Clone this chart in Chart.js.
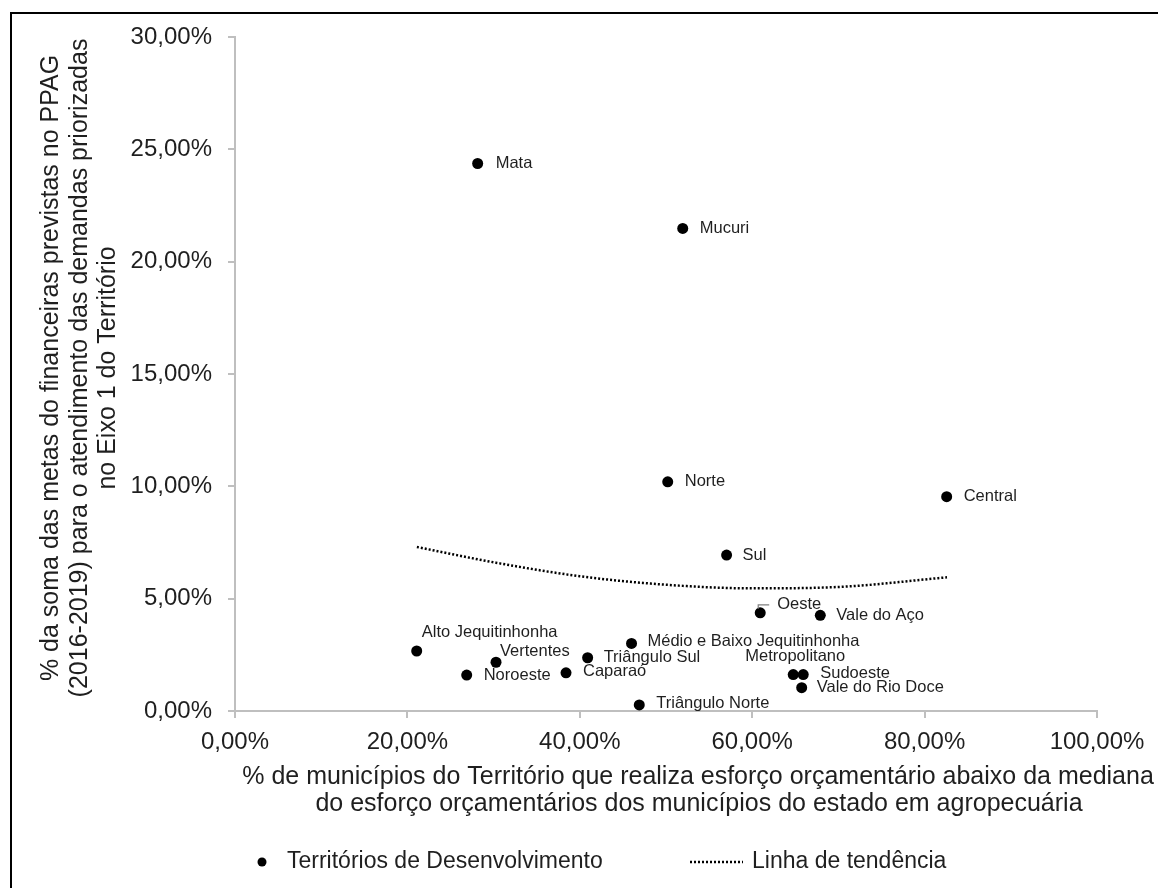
<!DOCTYPE html>
<html><head><meta charset="utf-8">
<script src="https://cdn.jsdelivr.net/npm/chart.js@4"></script>
<style>html,body{margin:0;padding:0;background:#fff;overflow:hidden}canvas{display:block}</style>
</head><body>
<canvas id="c" width="1158" height="888"></canvas>
<script>
// ---- data ----
const territorios = ["Mata","Mucuri","Norte","Central","Sul","Oeste","Vale do Aço","Médio e Baixo Jequitinhonha","Metropolitano","Sudoeste","Vale do Rio Doce","Alto Jequitinhonha","Vertentes","Noroeste","Caparaó","Triângulo Sul","Triângulo Norte"];
const xValues = [28.15, 51.94, 50.2, 82.56, 57.03, 60.93, 67.9, 46.0, 64.76, 65.92, 65.74, 21.08, 30.28, 26.88, 38.4, 40.91, 46.9];
const yValues = [24.37, 21.48, 10.20, 9.54, 6.94, 4.37, 4.26, 3.01, 1.62, 1.62, 1.04, 2.67, 2.17, 1.60, 1.70, 2.37, 0.27];
const trendX = [21.1, 30, 40, 50, 60, 70, 82.6];
const trendY = [7.30, 6.62, 6.00, 5.62, 5.46, 5.52, 5.95];
const xTicks = [0, 20, 40, 60, 80, 100];
const yTicks = [0, 5, 10, 15, 20, 25, 30];
const xTitle = ["% de municípios do Território que realiza esforço orçamentário abaixo da mediana", "do esforço orçamentários dos municípios do estado em agropecuária"];
const yTitle = ["% da soma das metas do financeiras previstas no PPAG", "(2016-2019) para o atendimento das demandas priorizadas", "no Eixo 1 do Território"];
const seriesNames = ["Territórios de Desenvolvimento", "Linha de tendência"];

// ---- label placement (pixel offsets from each point) ----
const labelPlacement = {
  "Mata":[18,0], "Mucuri":[17,0], "Norte":[17,0], "Central":[17,0], "Sul":[16,0],
  "Oeste":[17,-8], "Vale do Aço":[16,0], "Médio e Baixo Jequitinhonha":[16,-2],
  "Metropolitano":[-48,-18], "Sudoeste":[17,-1], "Vale do Rio Doce":[15,0],
  "Alto Jequitinhonha":[5,-19], "Vertentes":[4,-11], "Noroeste":[17,0],
  "Caparaó":[17,-1], "Triângulo Sul":[16,0], "Triângulo Norte":[17,-1]
};

const FONT = '"Liberation Sans", Arial, sans-serif';
const TXT = '#1f1f1f';
const AXIS = '#bfbfbf';
const fmt = v => v.toFixed(2).replace('.', ',') + '%';

const points = xValues.map((x, i) => ({x, y: yValues[i]}));
const trend = trendX.map((x, i) => ({x, y: trendY[i]}));

const borderPlugin = {
  id: 'frame',
  beforeDraw(chart) {
    const c = chart.ctx;
    c.save();
    c.fillStyle = '#fff';
    c.fillRect(0, 0, chart.width, chart.height);
    c.strokeStyle = '#000';
    c.lineWidth = 2;
    c.strokeRect(11, 13, 3000, 3000);
    c.restore();
  }
};

const labelPlugin = {
  id: 'pointLabels',
  afterDatasetsDraw(chart) {
    const c = chart.ctx;
    const meta = chart.getDatasetMeta(0);
    c.save();
    c.font = '16.5px ' + FONT;
    c.fillStyle = TXT;
    c.textBaseline = 'middle';
    c.textAlign = 'left';
    meta.data.forEach((pt, i) => {
      const name = territorios[i];
      const off = labelPlacement[name] || [14, 0];
      c.fillText(name, pt.x + off[0], pt.y + off[1]);
      if (name === 'Oeste') {
        c.strokeStyle = '#7f7f7f';
        c.lineWidth = 1.2;
        c.beginPath();
        c.moveTo(pt.x - 2, pt.y - 4);
        c.lineTo(pt.x - 2, pt.y - 8);
        c.lineTo(pt.x + 9, pt.y - 8);
        c.stroke();
      }
    });
    c.restore();
  }
};

const decorPlugin = {
  id: 'decor',
  afterDraw(chart) {
    const c = chart.ctx;
    c.save();
    c.fillStyle = TXT;
    // x title
    c.font = '25px ' + FONT;
    c.textAlign = 'center';
    c.textBaseline = 'middle';
    c.fillText(xTitle[0], 698, 777);
    c.fillText(xTitle[1], 699, 804);
    // y title
    c.save();
    c.translate(0, 368);
    c.rotate(-Math.PI / 2);
    c.fillText(yTitle[0], 0, 51);
    c.fillText(yTitle[1], 0, 80);
    c.fillText(yTitle[2], 0, 108);
    c.restore();
    // legend
    const ly = 862;
    c.beginPath();
    c.arc(262, ly, 4.5, 0, Math.PI * 2);
    c.fillStyle = '#000';
    c.fill();
    c.fillStyle = TXT;
    c.font = '23px ' + FONT;
    c.textAlign = 'left';
    c.fillText(seriesNames[0], 287, ly);
    c.strokeStyle = '#000';
    c.lineWidth = 2.5;
    c.setLineDash([2, 2]);
    c.beginPath();
    c.moveTo(690, ly);
    c.lineTo(743, ly);
    c.stroke();
    c.setLineDash([]);
    c.fillText(seriesNames[1], 752, ly);
    c.restore();
  }
};

new Chart(document.getElementById('c'), {
  type: 'scatter',
  data: {
    datasets: [
      {
        label: seriesNames[0],
        data: points,
        pointRadius: 5.5,
        pointHoverRadius: 5.5,
        backgroundColor: '#000',
        borderColor: '#000',
        borderWidth: 0,
        order: 1
      },
      {
        label: seriesNames[1],
        type: 'line',
        data: trend,
        showLine: true,
        fill: false,
        borderColor: '#000',
        borderWidth: 2.5,
        borderDash: [2, 2],
        pointRadius: 0,
        tension: 0.4,
        cubicInterpolationMode: 'monotone',
        order: 2
      }
    ]
  },
  options: {
    responsive: false,
    animation: false,
    devicePixelRatio: 1,
    layout: { padding: { top: 37, right: 61, left: 0, bottom: 0 } },
    plugins: { legend: { display: false }, tooltip: { enabled: false } },
    scales: {
      x: {
        type: 'linear', min: 0, max: 100,
        afterBuildTicks: s => { s.ticks = xTicks.map(v => ({value: v})); },
        afterFit: s => { s.height = 888 - 711; },
        ticks: { callback: v => fmt(v), font: { family: FONT, size: 24 }, color: TXT, padding: 10, maxRotation: 0, autoSkip: false },
        grid: { drawOnChartArea: false, drawTicks: true, tickLength: 7, color: AXIS, lineWidth: 2 },
        border: { display: true, color: AXIS, width: 2 }
      },
      y: {
        type: 'linear', min: 0, max: 30,
        afterBuildTicks: s => { s.ticks = yTicks.map(v => ({value: v})); },
        afterFit: s => { s.width = 235; },
        ticks: { callback: v => fmt(v), font: { family: FONT, size: 24 }, color: TXT, padding: 16, autoSkip: false },
        grid: { drawOnChartArea: false, drawTicks: true, tickLength: 7, color: AXIS, lineWidth: 2 },
        border: { display: true, color: AXIS, width: 2 }
      }
    }
  },
  plugins: [borderPlugin, labelPlugin, decorPlugin]
});
</script>
</body></html>
